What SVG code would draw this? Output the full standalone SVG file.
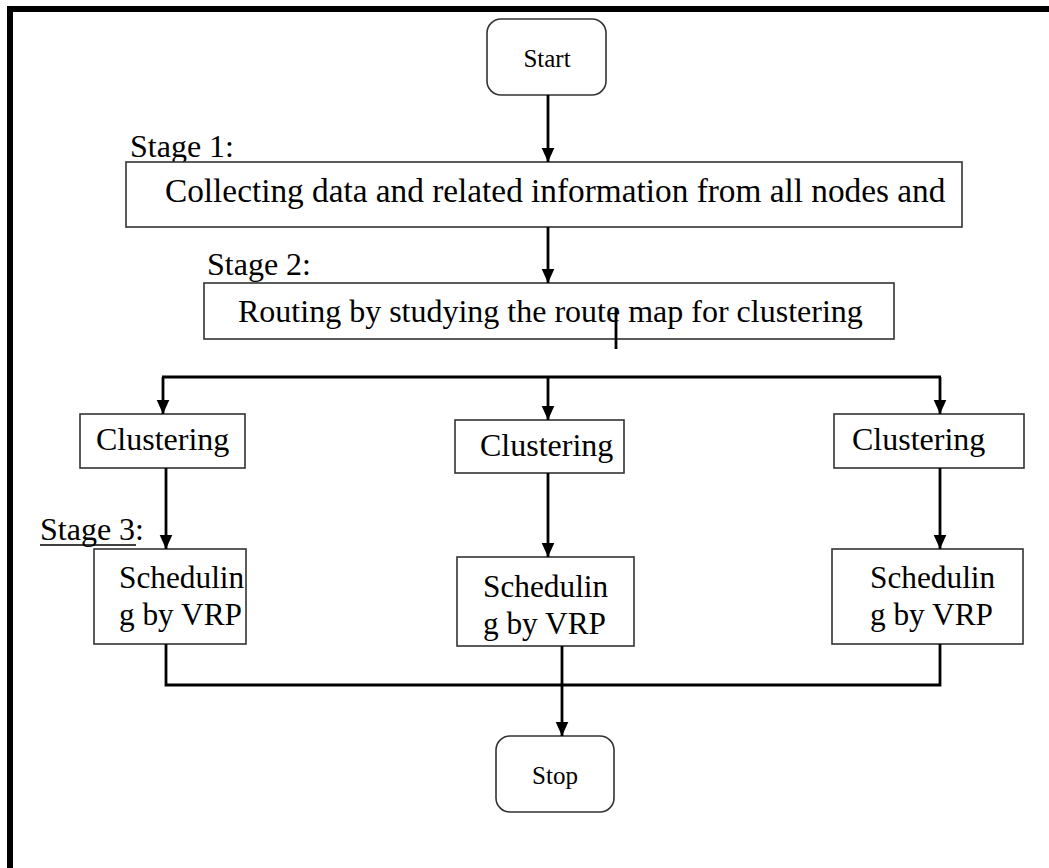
<svg xmlns="http://www.w3.org/2000/svg" width="1049" height="868" viewBox="0 0 1049 868">
  <defs>
    <style>
      .box { fill: #fff; stroke: #333; stroke-width: 1.6; }
      .t { font-family: "Liberation Serif", serif; font-size: 32px; fill: #000; }
      .tm { font-family: "Liberation Serif", serif; font-size: 31.3px; fill: #000; }
      .tb { font-family: "Liberation Serif", serif; font-size: 33.3px; fill: #000; }
      .ts { font-family: "Liberation Serif", serif; font-size: 25px; fill: #000; }
      .wire { fill: none; stroke: #000; stroke-width: 2.8; }
      .arrow { fill: none; stroke: #000; stroke-width: 2.8; marker-end: url(#head); }
    </style>
    <marker id="head" viewBox="0 0 10 10" refX="10" refY="5" markerWidth="14" markerHeight="14" markerUnits="userSpaceOnUse" orient="auto">
      <path d="M0,0.5 L10,5 L0,9.5 z" fill="#000"/>
    </marker>
  </defs>

  <rect width="1049" height="868" fill="#fff"/>

  <!-- page frame: top and left rules -->
  <path d="M10,868 L10,9 L1049,9" fill="none" stroke="#000" stroke-width="6"/>

  <!-- stage labels -->
  <text class="t" x="130" y="157">Stage 1:</text>
  <text class="t" x="207" y="275">Stage 2:</text>
  <g id="stage3-label">
    <text class="t" x="40" y="540">Stage 3:</text>
    <line x1="40" y1="545" x2="136" y2="545" stroke="#000" stroke-width="1.6"/>
  </g>

  <g id="start">
    <rect class="box" x="487" y="19" width="119" height="76" rx="14"/>
    <text class="ts" x="547" y="67" text-anchor="middle">Start</text>
  </g>

  <g id="stage1">
    <rect class="box" x="126" y="162" width="836" height="65"/>
    <text class="tb" x="165" y="202">Collecting data and related information from all nodes and</text>
  </g>

  <g id="stage2">
    <rect class="box" x="204" y="283" width="690" height="56"/>
    <text class="t" x="238" y="322">Routing by studying the route map for clustering</text>
  </g>

  <g id="cluster-left">
    <rect class="box" x="80" y="414" width="165" height="54"/>
    <text class="t" x="96" y="450">Clustering</text>
  </g>
  <g id="cluster-mid">
    <rect class="box" x="455" y="420" width="169" height="53"/>
    <text class="t" x="480" y="456">Clustering</text>
  </g>
  <g id="cluster-right">
    <rect class="box" x="834" y="414" width="190" height="54"/>
    <text class="t" x="852" y="450">Clustering</text>
  </g>

  <g id="sched-left">
    <rect class="box" x="94" y="549" width="152" height="95"/>
    <text class="tm" x="119" y="588">Schedulin</text>
    <text class="tm" x="119" y="625">g by VRP</text>
  </g>
  <g id="sched-mid">
    <rect class="box" x="457" y="557" width="177" height="89"/>
    <text class="tm" x="483" y="597">Schedulin</text>
    <text class="tm" x="483" y="634">g by VRP</text>
  </g>
  <g id="sched-right">
    <rect class="box" x="832" y="549" width="191" height="95"/>
    <text class="tm" x="870" y="588">Schedulin</text>
    <text class="tm" x="870" y="625">g by VRP</text>
  </g>

  <g id="stop">
    <rect class="box" x="496" y="736" width="118" height="76" rx="14"/>
    <text class="ts" x="555" y="784" text-anchor="middle">Stop</text>
  </g>

  <!-- connectors -->
  <g id="connectors">
    <line class="arrow" x1="548" y1="95" x2="548" y2="162"/>
    <line class="arrow" x1="548" y1="227" x2="548" y2="283"/>
    <line class="wire" x1="616" y1="308" x2="616" y2="349"/>
    <line class="wire" x1="162" y1="377" x2="941" y2="377"/>
    <line class="arrow" x1="163" y1="377" x2="163" y2="414"/>
    <line class="arrow" x1="548" y1="377" x2="548" y2="420"/>
    <line class="arrow" x1="940" y1="377" x2="940" y2="414"/>
    <line class="arrow" x1="166" y1="468" x2="166" y2="549"/>
    <line class="arrow" x1="548" y1="473" x2="548" y2="557"/>
    <line class="arrow" x1="940" y1="468" x2="940" y2="549"/>
    <polyline class="wire" points="166,644 166,685 940,685 940,644"/>
    <line class="arrow" x1="562" y1="646" x2="562" y2="736"/>
  </g>
</svg>
